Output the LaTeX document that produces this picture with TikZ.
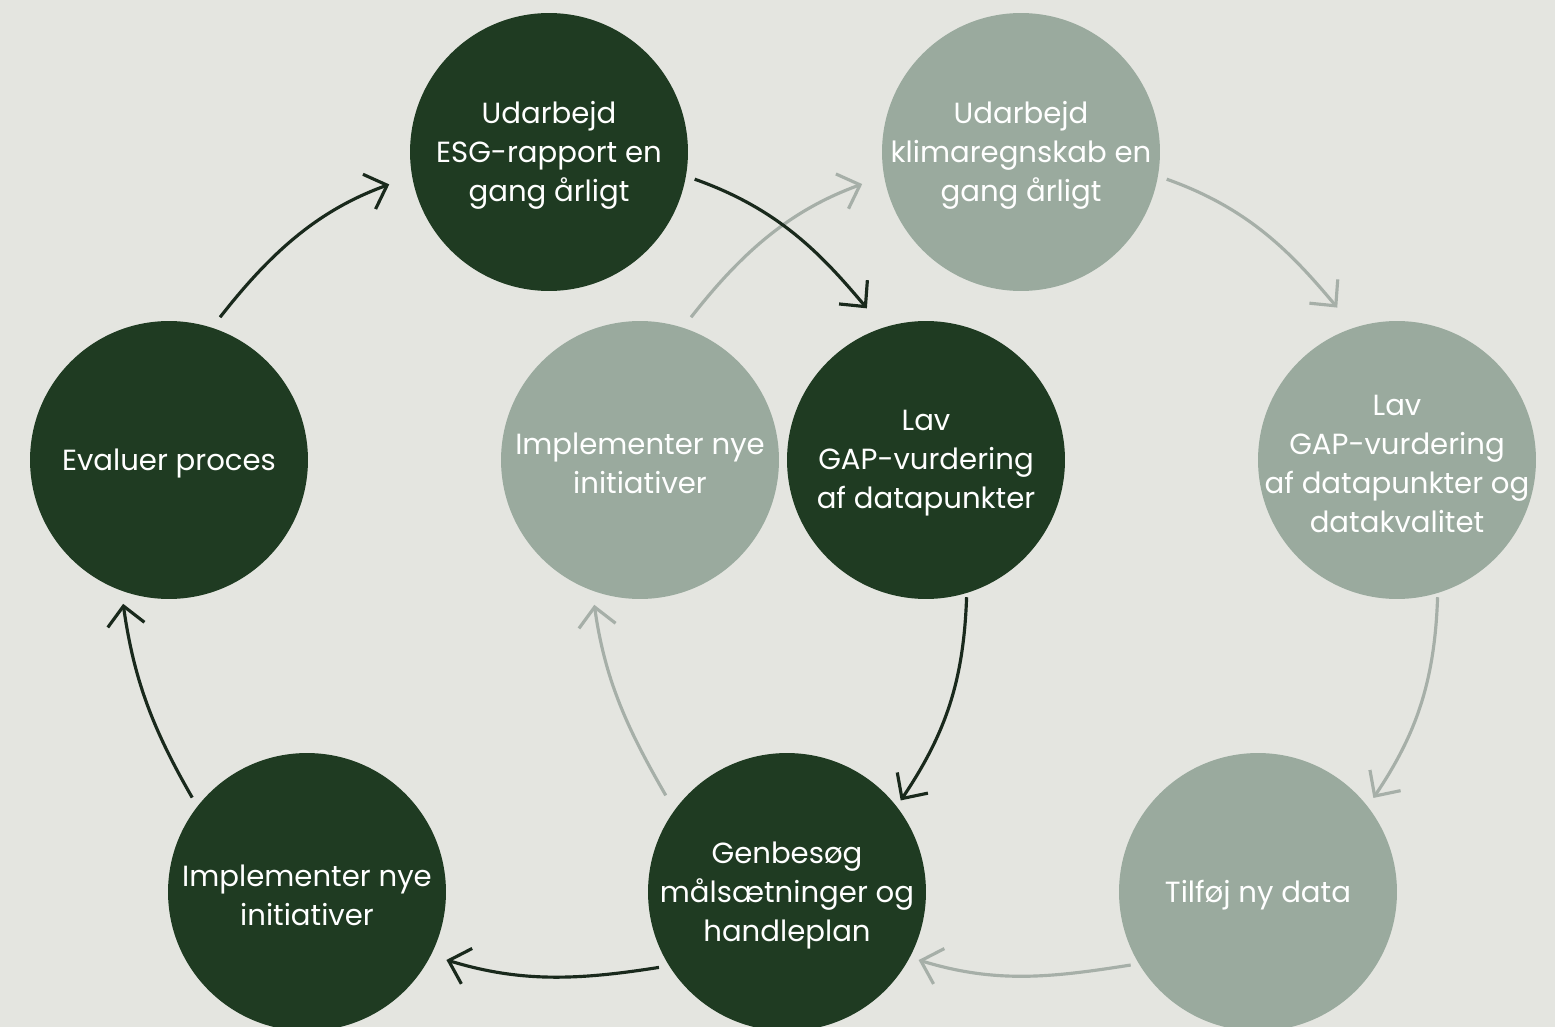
\documentclass[tikz,border=0pt]{standalone}
\usepackage{fontspec}
\setmainfont{Poppins}
\usetikzlibrary{arrows.meta}
\definecolor{bgc}{HTML}{E4E5E0}
\definecolor{darkc}{HTML}{1F3B22}
\definecolor{lightc}{HTML}{9AAA9E}
\definecolor{darkarr}{HTML}{19291C}
\definecolor{lightarr}{HTML}{A6AFA8}
\begin{document}
\begin{tikzpicture}[x=0.02cm,y=-0.02cm,
  circ/.style={circle, minimum size=5.56cm, inner sep=0pt},
  tx/.style={text=white, align=center, inner sep=0pt, yshift=-0.07cm,
    font=\fontsize{16.6}{22.2}\selectfont},
  dcirc/.style={circ, fill=darkc},
  lcirc/.style={circ, fill=lightc},
  darr/.style={draw=darkarr, line width=1.8pt, -{Straight Barb[length=0.38cm,width=0.74cm]}},
  larr/.style={draw=lightarr, line width=1.8pt, -{Straight Barb[length=0.38cm,width=0.74cm]}}]
\fill[bgc] (0,0) rectangle (1555,1027);
\useasboundingbox (0,0) rectangle (1555,1027);
% dark cycle
\node[dcirc, label={[tx]center:{Evaluer proces}}] (eval) at (169,460) {};
\node[dcirc, label={[tx]center:{Udarbejd\\ESG-rapport en\\gang årligt}}] (esg) at (549,152) {};
\node[dcirc, label={[tx]center:{Lav\\GAP-vurdering\\af datapunkter}}] (gapd) at (926,460) {};
\node[dcirc, label={[tx]center:{Genbesøg\\målsætninger og\\handleplan}}] (gen) at (787,892) {};
\node[dcirc, label={[tx]center:{Implementer nye\\initiativer}}] (impd) at (307,892) {};
% light cycle
\node[lcirc, label={[tx]center:{Implementer nye\\initiativer}}] (impl) at (640,460) {};
\node[lcirc, label={[tx]center:{Udarbejd\\klimaregnskab en\\gang årligt}}] (klima) at (1021,152) {};
\node[lcirc, label={[tx]center:{Lav\\GAP-vurdering\\af datapunkter og\\datakvalitet}}] (gapl) at (1397,460) {};
\node[lcirc, label={[tx]center:{Tilføj ny data}}] (tilf) at (1258,892) {};
% light arrows
\draw[larr, shorten <=0.26cm, shorten >=0.46cm] (impl.72) to[out=52,in=200] (klima.190.6);
\draw[larr, shorten <=0.18cm, shorten >=0.52cm] (klima.-10.1) to[out=-19.5,in=130] (gapl.108.9);
\draw[larr, shorten <=0.08cm, shorten >=0.2cm] (gapl.-73.7) to[out=-92,in=56] (tilf.38);
\draw[larr, shorten <=0.16cm, shorten >=0.18cm] (tilf.211) to[out=189,in=-17] (gen.-28.3);
\draw[larr, shorten <=0.34cm, shorten >=0.28cm] (gen.144.7) to[out=120,in=-82] (impl.-110.7);
% dark arrows
\draw[darr, shorten <=0.26cm, shorten >=0.48cm] (eval.72.4) to[out=52,in=200] (esg.190.6);
\draw[darr, shorten <=0.18cm, shorten >=0.5cm] (esg.-10.1) to[out=-19.5,in=130] (gapd.108.9);
\draw[darr, shorten <=0.08cm, shorten >=0.14cm] (gapd.-73.7) to[out=-92,in=56] (gen.38);
\draw[darr, shorten <=0.2cm, shorten >=0.32cm] (gen.212) to[out=189,in=-17] (impd.-27.2);
\draw[darr, shorten <=0.2cm, shorten >=0.26cm] (impd.142.9) to[out=120,in=-82] (eval.-110.8);
\end{tikzpicture}
\end{document}
